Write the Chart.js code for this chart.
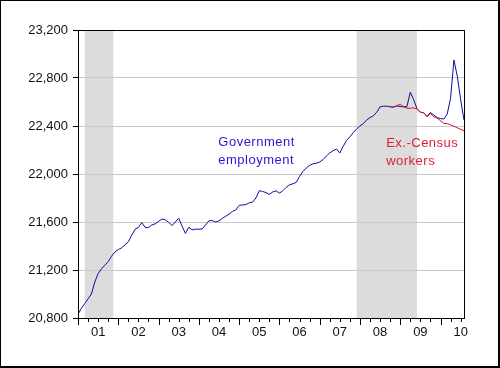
<!DOCTYPE html>
<html lang="en">
<head>
  <meta charset="UTF-8">
  <title>Government employment</title>
  <style>
    body {
      margin: 0;
      padding: 0;
      background: #fff;
    }

    .wrap {
      width: 500px;
      height: 368px;
    }
  </style>
  <script src="https://cdn.jsdelivr.net/npm/chart.js"></script>
</head>
<body>

  <div class="wrap">
    <canvas id="govChart" width="500" height="368"></canvas>
  </div>

  <script>
    // monthly data, Jan 2001 .. Aug 2010 (thousands)
    const govEmployment = [
      20830, 20880, 20920, 20960, 21000, 21100, 21170, 21210, 21240, 21270, 21315, 21350,
      21370, 21385, 21410, 21435, 21490, 21540, 21555, 21595, 21555, 21553, 21575, 21585,
      21605, 21625, 21618, 21598, 21570, 21600, 21632, 21565, 21505, 21556, 21535, 21540,
      21540, 21542, 21575, 21610, 21612, 21600, 21610, 21630, 21648, 21665, 21688, 21700,
      21738, 21742, 21745, 21760, 21765, 21800, 21860, 21855, 21845, 21830, 21850, 21860,
      21840, 21860, 21888, 21910, 21918, 21930, 21980, 22020, 22050, 22072, 22085, 22090,
      22100, 22120, 22150, 22175, 22195, 22208, 22175, 22230, 22280, 22310, 22345, 22375,
      22400, 22420, 22450, 22470, 22485, 22515, 22560, 22565, 22565, 22560, 22556, 22567,
      22562, 22560, 22562, 22682, 22620, 22545, 22515, 22510, 22480, 22512, 22492, 22470,
      22462, 22458, 22500, 22630, 22950, 22815, 22620, 22450
    ];

    // excluding temporary Census workers, shown from Oct 2008
    const exCensusStart = 93;
    const exCensus = [
      22560, 22560, 22570, 22580, 22560, 22548, 22547, 22552, 22540, 22515, 22510, 22478,
      22505, 22478, 22465, 22445, 22422, 22420, 22410, 22398, 22385, 22372, 22360
    ];

    const yearLabels = ['01', '02', '03', '04', '05', '06', '07', '08', '09', '10'];
    const yTicks = [20800, 21200, 21600, 22000, 22400, 22800, 23200];

    // NBER recessions as month index (0 = Jan 2001)
    const recessionStart = [2, 83];
    const recessionEnd = [10.5, 101];

    const govPoints = govEmployment.map((v, i) => ({ x: i, y: v }));
    const exPoints = exCensus.map((v, i) => ({ x: exCensusStart + i, y: v }));

    const FONT = 'Liberation Sans, Arial, sans-serif';

    // grey bars for recessions, drawn under the grid
    const recessionShade = {
      id: 'recessionShade',
      beforeDraw(chart) {
        const { ctx, chartArea, scales } = chart;
        ctx.save();
        ctx.fillStyle = '#dcdcdc';
        for (let k = 0; k < recessionStart.length; k++) {
          const x0 = scales.x.getPixelForValue(recessionStart[k]);
          const x1 = scales.x.getPixelForValue(recessionEnd[k]);
          ctx.fillRect(x0, chartArea.top, x1 - x0, chartArea.bottom - chartArea.top);
        }
        ctx.restore();
      }
    };

    // frame, quarter tick marks, text labels and outer border
    const frameAndNotes = {
      id: 'frameAndNotes',
      afterDraw(chart) {
        const { ctx, chartArea, scales } = chart;
        const a = chartArea;
        ctx.save();
        ctx.strokeStyle = '#000';
        ctx.lineWidth = 1;
        ctx.strokeRect(Math.round(a.left) + 0.5, Math.round(a.top) + 0.5,
          Math.round(a.right - a.left), Math.round(a.bottom - a.top));

        // tick marks every quarter, longer at year boundaries
        ctx.beginPath();
        for (let i = 0; i < govEmployment.length; i += 3) {
          const px = Math.round(scales.x.getPixelForValue(i)) + 0.5;
          const len = i % 12 === 0 ? 7 : 4;
          ctx.moveTo(px, a.bottom);
          ctx.lineTo(px, a.bottom + len);
        }
        ctx.stroke();

        // series labels
        ctx.font = '13px ' + FONT;
        ctx.textBaseline = 'middle';
        if ('letterSpacing' in ctx) ctx.letterSpacing = '0.5px';
        const notes = [
          { text: 'Government', x: 41.8, y: 22267, color: '#2a16d6' },
          { text: 'employment', x: 41.8, y: 22117, color: '#2a16d6' },
          { text: 'Ex.-Census', x: 91.8, y: 22258, color: '#dc1e3c' },
          { text: 'workers', x: 91.8, y: 22108, color: '#dc1e3c' }
        ];
        notes.forEach(n => {
          ctx.fillStyle = n.color;
          ctx.fillText(n.text, scales.x.getPixelForValue(n.x), scales.y.getPixelForValue(n.y));
        });

        // outer border of the picture
        ctx.lineWidth = 2;
        ctx.strokeRect(0, 0, chart.width - 1, chart.height - 1);
        ctx.restore();
      }
    };

    const ctx = document.getElementById('govChart').getContext('2d');
    const chart = new Chart(ctx, {
      type: 'line',
      data: {
        datasets: [
          {
            label: 'Ex.-Census workers',
            data: exPoints,
            borderColor: '#cc1a2a',
            borderWidth: 1,
            pointRadius: 0,
            tension: 0,
            fill: false
          },
          {
            label: 'Government employment',
            data: govPoints,
            borderColor: '#0c0ca0',
            borderWidth: 1,
            pointRadius: 0,
            tension: 0,
            fill: false
          }
        ]
      },
      options: {
        responsive: false,
        animation: false,
        layout: {
          padding: { top: 30, right: 36, left: 0, bottom: 0 }
        },
        plugins: {
          legend: { display: false },
          tooltip: { enabled: false }
        },
        scales: {
          x: {
            type: 'linear',
            min: 0,
            max: govEmployment.length - 1,
            afterBuildTicks: scale => {
              scale.ticks = yearLabels.map((l, k) => ({ value: 6 + 12 * k }));
            },
            afterFit: scale => { scale.height = 50; },
            grid: { display: false, drawTicks: false },
            border: { display: true, color: '#000', width: 1 },
            ticks: {
              autoSkip: false,
              maxRotation: 0,
              padding: 7,
              color: '#111',
              font: { family: FONT, size: 13 },
              callback: v => yearLabels[Math.round((v - 6) / 12)]
            }
          },
          y: {
            min: yTicks[0],
            max: yTicks[yTicks.length - 1],
            afterBuildTicks: scale => {
              scale.ticks = yTicks.map(v => ({ value: v }));
            },
            afterFit: scale => { scale.width = 78; },
            grid: {
              color: '#c8c8c8',
              lineWidth: 1,
              tickLength: 5,
              tickColor: '#000'
            },
            border: { display: true, color: '#000', width: 1 },
            ticks: {
              padding: 5,
              color: '#111',
              font: { family: FONT, size: 13 },
              callback: v => v.toLocaleString('en-US')
            }
          }
        }
      },
      plugins: [recessionShade, frameAndNotes]
    });
  </script>

</body>
</html>
